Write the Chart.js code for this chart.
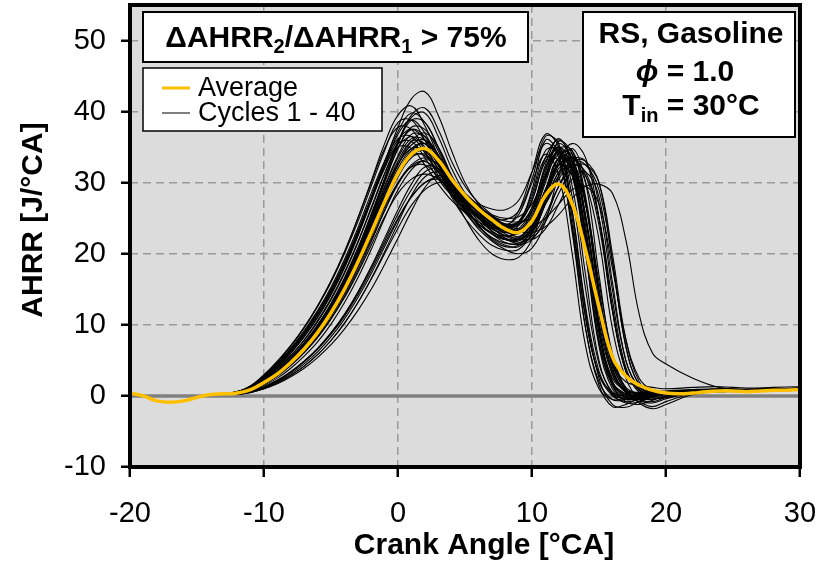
<!DOCTYPE html>
<html>
<head>
<meta charset="utf-8">
<script src="https://cdn.jsdelivr.net/npm/chart.js@4.4.1/dist/chart.umd.min.js"></script>
<style>
  html, body { margin: 0; padding: 0; background: #fff; }
  #wrap { width: 828px; height: 566px; }
</style>
</head>
<body>
<div id="wrap"><canvas id="ahrrChart" width="828" height="566"></canvas></div>
<script>
// crank angle grid for the single cycles (-20..-13 lead-in, then -12..20, then 2 deg steps)
const cycleAngles = [-20, -19, -18, -17, -16, -15, -14, -13,
    -12, -11, -10, -9, -8, -7, -6, -5, -4, -3, -2, -1,
    0, 1, 2, 3, 4, 5, 6, 7, 8,
    9, 10, 11, 12, 13, 14, 15, 16, 17, 18, 19, 20,
    22, 24, 26, 28, 30];

// all cycles overlap before ignition
const leadIn = [0.4, 0.0, -0.7, -0.9, -0.7, -0.2, 0.2, 0.3];

// values from -12 to 30 deg CA (38 per cycle)
const cycle01 = [0.5,1.1,2.4,4.0,6.0,8.3,11.0,14.2,18.0,22.5,27.5,32.8, 37.8,41.8,42.8,39.5,34.5,30.0,27.0,25.0,23.3, 22.8,25.0,31.0,34.2,31.0,20.0,7.5,1.5,0.2,-0.5,-0.2,0.3, 0.6,0.8,0.7,0.9,1.0];
const cycle02 = [0.5,1.0,2.1,3.5,5.3,7.4,9.9,12.9,16.4,20.6,25.3,30.5, 35.5,39.5,40.5,37.5,33.0,29.5,27.2,25.5,24.2, 24.5,27.5,33.5,36.0,33.0,22.0,9.0,2.5,0.8,0.3,0.5,0.6, 0.8,0.9,0.7,0.8,0.9];
const cycle03 = [0.6,1.4,2.9,4.8,7.0,9.6,12.6,16.0,20.0,24.5,29.5,34.5, 38.5,38.8,36.0,32.5,29.5,27.5,26.0,25.0,24.8, 26.0,30.5,36.5,35.5,26.0,12.0,2.5,-1.2,-1.6,-0.8,0.0,0.4, 0.7,1.0,0.8,0.9,1.1];
const cycle04 = [0.4,0.9,1.9,3.1,4.8,6.8,9.2,12.0,15.3,19.2,23.6,28.2, 32.5,35.8,37.0,35.0,31.0,27.0,24.0,22.0,21.0, 21.2,23.5,28.5,32.5,33.0,27.0,15.0,5.0,1.2,0.3,0.0,0.2, 0.5,0.7,0.6,0.8,0.8];
const cycle05 = [0.2,0.5,1.0,1.7,2.7,3.9,5.4,7.2,9.4,12.0,15.0,18.5, 22.2,26.0,29.3,31.0,30.2,28.5,26.8,25.3,24.0, 23.2,23.0,23.8,25.5,27.8,29.5,29.8,28.5,22.0,11.5,6.0,4.5, 2.5,1.2,0.9,0.8,0.9];
const cycle06 = [0.4,0.8,1.8,3.0,4.5,6.4,8.6,11.3,14.5,18.3,22.6,27.0, 31.0,34.2,34.8,32.5,29.0,26.0,23.5,21.8,20.6, 20.0,20.8,24.5,31.0,34.8,30.0,17.0,5.5,1.0,-0.3,-0.5,0.0, 0.5,0.6,0.7,0.7,0.8];
const cycle07 = [0.6,1.2,2.6,4.3,6.3,8.6,11.4,14.6,18.4,22.8,27.5,32.0, 35.5,35.8,33.5,30.5,28.2,26.5,25.2,24.3,24.0, 25.5,30.0,34.0,31.0,20.0,7.0,1.0,-0.5,-0.3,0.2,0.5,0.6, 0.8,0.9,0.8,1.0,1.0];
const cycle08 = [0.3,0.6,1.2,2.1,3.3,4.8,6.6,8.8,11.4,14.5,18.0,21.8, 25.6,29.0,31.5,32.0,30.5,28.5,26.5,24.8,23.2, 22.3,22.0,23.5,27.0,30.5,31.5,28.0,16.0,5.0,1.0,0.0,0.2, 0.6,0.8,0.8,0.9,0.9];
const cycle09 = [0.5,1.0,2.1,3.4,5.1,7.2,9.7,12.7,16.2,20.3,25.0,30.0, 34.8,37.8,37.5,34.5,30.5,27.5,25.5,24.0,23.0, 23.2,26.0,31.5,35.0,32.0,22.0,9.0,2.0,0.3,-0.3,0.0,0.4, 0.7,0.8,0.7,0.8,0.9];
const cycle10 = [0.4,0.9,1.8,3.0,4.6,6.5,8.8,11.5,14.7,18.5,22.7,27.0, 30.8,33.5,34.0,32.0,28.5,25.0,22.0,20.0,19.2, 19.5,22.0,27.5,32.0,32.0,25.0,12.0,3.5,0.5,-0.8,-1.5,-0.8, 0.3,0.6,0.6,0.7,0.8];
const cycle11 = [0.6,1.3,2.7,4.5,6.6,9.0,11.8,15.0,18.8,23.2,28.0,33.0, 37.2,39.8,38.5,35.0,31.0,28.2,26.2,24.8,24.0, 24.5,28.0,33.5,33.0,24.0,11.0,3.0,0.5,0.0,0.3,0.5,0.6, 0.7,0.8,0.9,0.9,1.0];
const cycle12 = [0.3,0.7,1.5,2.5,3.9,5.6,7.6,10.1,13.1,16.6,20.6,25.0, 29.0,31.8,33.2,32.5,30.0,27.8,25.8,24.3,23.2, 23.0,24.5,29.0,32.5,33.5,33.0,27.0,15.0,5.0,1.2,0.3,0.4, 0.6,0.7,0.8,0.8,0.9];
const cycle13 = [0.4,0.9,2.0,3.3,5.0,7.0,9.4,12.3,15.7,19.7,24.2,28.8, 33.0,35.8,35.5,32.8,29.6,27.0,25.2,24.0,23.8, 26.0,31.5,36.8,35.0,25.0,11.0,3.0,0.0,-0.8,-0.5,0.2,0.5, 0.7,0.9,0.8,0.9,1.0];
const cycle14 = [0.3,0.6,1.2,2.0,3.1,4.5,6.2,8.3,10.8,13.8,17.2,21.0, 24.8,28.0,30.0,30.8,30.0,28.0,25.8,23.8,22.2, 21.5,22.5,25.5,29.5,32.0,32.5,30.0,20.0,8.0,2.0,0.3,0.2, 0.5,0.7,0.7,0.8,0.9];
const cycle15 = [0.5,1.0,2.2,3.6,5.4,7.5,10.0,13.0,16.6,20.8,25.6,30.6, 35.5,38.8,38.5,35.0,30.8,27.5,25.0,23.2,22.0, 21.8,23.5,28.0,33.0,34.0,27.5,14.0,4.5,0.8,-0.5,-0.8,-0.2, 0.5,0.8,0.8,0.9,1.0];
const cycle16 = [0.6,1.3,2.8,4.6,6.7,9.2,12.0,15.3,19.2,23.6,28.5,33.0, 36.2,36.5,34.2,31.5,29.5,28.0,27.0,26.3,26.2, 27.5,31.5,35.5,33.5,23.0,9.5,2.0,-0.5,-0.5,0.0,0.4,0.5, 0.8,0.9,0.9,1.0,1.1];
const cycle17 = [0.4,0.9,1.9,3.1,4.8,6.8,9.1,11.9,15.2,19.0,23.3,27.6, 31.5,34.5,35.5,33.5,29.8,26.5,24.0,22.2,21.2, 21.0,22.8,27.0,31.5,33.5,31.0,24.0,12.0,3.5,0.8,0.3,0.4, 0.6,0.8,0.7,0.9,0.9];
const cycle18 = [0.4,0.8,1.7,2.8,4.3,6.1,8.2,10.8,13.8,17.3,21.2,25.2, 28.5,30.5,31.2,30.5,28.8,27.0,25.3,24.0,23.2, 23.5,26.5,32.0,35.5,33.0,23.0,9.5,2.0,0.0,-0.5,0.0,0.4, 0.6,0.8,0.8,0.9,0.9];
const cycle19 = [0.5,1.0,2.1,3.5,5.2,7.3,9.8,12.8,16.3,20.5,25.2,30.2, 34.8,37.5,36.5,33.2,29.5,26.5,24.2,22.8,22.0, 22.2,24.5,29.0,32.5,31.0,23.0,10.5,3.0,0.8,0.5,0.6,0.7, 0.9,1.0,0.9,1.0,1.1];
const cycle20 = [0.2,0.5,1.0,1.8,2.9,4.2,5.8,7.8,10.2,13.1,16.5,20.3, 24.3,28.2,30.8,31.5,30.3,28.2,26.0,24.2,22.8, 22.0,22.2,24.5,28.5,31.5,31.0,25.0,13.5,4.0,0.8,-0.3,-0.2, 0.4,0.7,0.8,0.8,0.9];
const cycle21 = [0.6,1.4,2.9,4.8,7.0,9.6,12.6,16.1,20.2,25.0,30.2,35.5, 39.5,40.8,38.0,33.8,30.0,27.5,25.8,24.6,23.8, 24.2,27.5,33.0,34.5,28.0,15.0,4.5,0.5,-0.5,-0.2,0.3,0.5, 0.7,0.9,0.8,0.9,1.0];
const cycle22 = [0.4,0.9,1.9,3.1,4.7,6.6,8.9,11.7,15.0,18.9,23.2,27.6, 31.2,33.8,34.5,33.0,30.2,28.0,26.5,25.3,24.6, 24.5,25.0,27.0,30.5,33.0,32.5,29.0,19.0,7.0,1.5,0.3,0.4, 0.6,0.8,0.8,0.8,0.9];
const cycle23 = [0.5,1.1,2.3,3.8,5.7,7.9,10.6,13.7,17.4,21.7,26.5,31.3, 35.0,36.5,35.0,31.8,28.0,25.0,22.8,21.2,20.5, 20.6,23.0,28.5,33.5,32.0,22.5,9.0,1.5,-0.8,-1.2,-0.6,0.0, 0.5,0.7,0.8,0.8,0.9];
const cycle24 = [0.4,0.8,1.7,2.9,4.4,6.3,8.5,11.2,14.3,18.0,22.0,26.2, 30.0,32.5,33.5,32.5,29.8,27.2,25.2,23.6,22.5, 22.0,23.2,27.5,33.0,35.5,33.5,25.0,12.0,3.5,0.8,0.2,0.3, 0.5,0.7,0.8,0.8,0.9];
const cycle25 = [0.6,1.4,3.0,4.9,7.1,9.7,12.7,16.2,20.3,25.0,30.0,34.8, 37.8,37.5,34.5,31.0,28.5,26.8,25.5,24.5,23.8, 24.5,28.5,34.5,34.5,26.0,12.5,3.5,0.2,-0.3,0.2,0.5,0.6, 0.8,0.9,0.9,1.0,1.0];
const cycle26 = [0.5,1.0,2.0,3.3,5.0,7.0,9.4,12.3,15.7,19.7,24.2,28.8, 32.6,34.8,34.5,32.0,29.0,26.7,25.0,23.8,23.0, 23.2,26.0,32.5,36.2,32.0,20.0,7.0,1.0,-0.5,-0.2,0.3,0.5, 0.7,0.8,0.8,0.9,1.0];
const cycle27 = [0.3,0.6,1.3,2.2,3.4,4.9,6.7,8.9,11.5,14.6,18.2,22.2, 26.2,29.8,32.2,32.0,29.8,27.0,24.6,22.8,21.6, 21.3,22.0,25.0,29.5,32.5,31.5,25.0,12.5,3.5,0.5,-0.3,0.0, 0.5,0.7,0.7,0.8,0.8];
const cycle28 = [0.4,0.9,1.9,3.2,4.9,6.9,9.3,12.2,15.6,19.6,24.0,28.6, 32.6,35.3,36.0,34.0,30.5,27.5,25.0,23.2,22.2, 22.0,23.8,28.5,33.5,34.5,28.0,15.0,4.5,0.8,-0.2,0.0,0.3, 0.6,0.8,0.8,0.9,0.9];
const cycle29 = [0.5,1.1,2.3,3.8,5.6,7.8,10.4,13.5,17.2,21.5,26.3,31.2, 35.8,39.2,39.8,36.5,32.0,28.5,26.0,24.3,23.2, 23.0,25.0,30.0,34.5,33.5,25.0,11.5,3.0,0.5,0.0,0.3,0.5, 0.7,0.8,0.8,0.9,1.0];
const cycle30 = [0.4,0.9,1.8,3.0,4.6,6.5,8.7,11.4,14.6,18.3,22.4,26.6, 30.0,32.2,32.5,30.8,28.2,25.8,23.8,22.3,21.5, 21.5,23.0,27.0,31.5,32.0,27.0,16.0,6.0,1.0,-1.0,-1.8,-1.2, 0.2,0.6,0.6,0.7,0.8];
const cycle31 = [0.6,1.2,2.6,4.3,6.3,8.7,11.5,14.7,18.5,22.9,27.7,32.5, 36.0,37.5,36.0,32.5,29.2,27.0,25.5,24.5,23.8, 24.0,26.5,32.0,35.0,29.5,17.0,5.0,0.3,-1.0,-0.8,-0.2,0.3, 0.6,0.8,0.8,0.9,1.0];
const cycle32 = [0.3,0.6,1.3,2.2,3.4,4.9,6.6,8.7,11.2,14.2,17.6,21.4, 25.0,28.0,30.0,30.5,29.8,28.2,26.5,25.0,23.8, 23.2,24.0,27.0,31.0,33.0,33.0,30.0,19.0,7.0,1.5,0.4,0.5, 0.7,0.8,0.8,0.9,0.9];
const cycle33 = [0.5,1.0,2.1,3.4,5.1,7.2,9.6,12.6,16.1,20.1,24.7,29.5, 33.8,36.8,36.5,33.8,30.5,28.0,26.2,25.0,24.2, 24.2,26.0,30.5,34.0,33.0,25.5,12.5,3.5,0.8,0.3,0.5,0.6, 0.8,0.9,0.9,1.0,1.0];
const cycle34 = [0.4,0.9,1.9,3.1,4.8,6.8,9.1,11.9,15.2,19.1,23.4,27.8, 31.5,33.8,33.8,31.5,28.5,26.0,24.2,22.8,22.0, 22.0,24.5,30.5,35.8,34.0,24.0,10.0,2.0,-0.2,-0.5,0.0,0.3, 0.6,0.7,0.8,0.8,0.9];
const cycle35 = [0.3,0.5,1.1,1.9,2.9,4.2,5.8,7.8,10.2,13.1,16.4,20.0, 23.6,26.8,29.0,30.0,29.8,28.5,26.8,25.2,24.0, 23.5,23.8,25.0,27.0,29.0,29.5,27.0,18.0,8.0,2.5,0.8,0.5, 0.7,0.8,0.9,0.9,1.0];
const cycle36 = [0.5,1.2,2.5,4.1,6.1,8.4,11.1,14.3,18.1,22.5,27.4,32.4, 36.8,38.8,37.0,33.0,29.0,26.2,24.2,23.0,22.5, 23.0,25.5,31.0,34.5,31.5,21.0,8.0,1.5,-0.3,-0.3,0.2,0.4, 0.7,0.8,0.8,0.9,1.0];
const cycle37 = [0.4,0.9,1.9,3.2,4.8,6.8,9.2,12.0,15.4,19.3,23.7,28.2, 32.0,34.8,35.5,33.5,30.0,27.2,25.0,23.5,22.6, 22.4,24.0,29.0,33.5,32.5,25.0,13.0,4.5,2.0,1.5,1.2,1.0, 1.2,1.3,1.1,1.2,1.3];
const cycle38 = [0.4,0.8,1.7,2.8,4.3,6.1,8.3,10.9,14.0,17.6,21.7,26.0, 29.8,32.3,33.0,31.5,28.8,26.2,24.2,22.8,22.0, 22.0,23.5,27.8,32.5,33.5,30.0,22.0,9.5,2.5,-0.5,-1.0,-0.4, 0.4,0.7,0.7,0.8,0.8];
const cycle39 = [0.6,1.3,2.7,4.5,6.5,8.9,11.7,14.9,18.7,23.0,27.8,32.3, 35.0,34.8,32.5,29.8,27.5,25.8,24.5,23.5,23.0, 24.0,29.0,36.0,34.0,23.5,9.5,1.5,-1.5,-1.2,-0.3,0.3,0.5, 0.7,0.9,0.8,0.9,1.0];
const cycle40 = [0.5,1.0,2.0,3.3,5.0,7.1,9.5,12.4,15.9,20.0,24.5,29.2, 33.5,36.2,36.0,33.5,30.5,28.2,26.6,25.5,25.0, 25.2,27.0,31.0,34.8,34.5,27.0,14.0,4.0,0.5,0.0,0.2,0.4, 0.6,0.8,0.8,0.8,0.9];

const cycles = [cycle01, cycle02, cycle03, cycle04, cycle05, cycle06, cycle07, cycle08, cycle09, cycle10,
    cycle11, cycle12, cycle13, cycle14, cycle15, cycle16, cycle17, cycle18, cycle19, cycle20,
    cycle21, cycle22, cycle23, cycle24, cycle25, cycle26, cycle27, cycle28, cycle29, cycle30,
    cycle31, cycle32, cycle33, cycle34, cycle35, cycle36, cycle37, cycle38, cycle39, cycle40];

// average curve, 1 deg steps
const avgAngles = [-20, -19, -18, -17, -16, -15, -14, -13, -12, -11, -10, -9, -8, -7, -6, -5, -4, -3, -2, -1,
    0, 1, 2, 3, 4, 5, 6, 7, 8, 9, 10, 11, 12, 13, 14, 15, 16, 17, 18, 19, 20,
    21, 22, 23, 24, 25, 26, 27, 28, 29, 30];
const avgValues = [0.4, 0.0, -0.7, -0.9, -0.7, -0.2, 0.2, 0.3, 0.4, 0.9, 1.9, 3.1, 4.7, 6.6, 8.9, 11.7, 15.0, 18.8, 23.0, 27.3,
    31.3, 34.0, 34.8, 33.2, 30.5, 28.2, 26.3, 24.8, 23.5, 23.0, 24.6, 28.2, 29.8, 27.0, 20.5, 12.5, 5.5, 2.8, 1.5, 0.8, 0.4,
    0.3, 0.4, 0.6, 0.7, 0.7, 0.6, 0.7, 0.8, 0.8, 0.9];

const xTicks = [-20, -10, 0, 10, 20, 30];
const yTicks = [-10, 0, 10, 20, 30, 40, 50];

const FONT = "'Liberation Sans', Arial, sans-serif";

cycles.forEach((c, i) => {
    if (leadIn.length + c.length !== cycleAngles.length) {
        throw new Error(`cycle ${i + 1} has ${c.length} values`);
    }
});
if (avgValues.length !== avgAngles.length) throw new Error('average length mismatch');

function toPoints(angles, values) {
    return angles.map((a, i) => ({ x: a, y: values[i] }));
}

const datasets = [{
    label: 'Average',
    data: toPoints(avgAngles, avgValues),
    borderColor: '#ffc000',
    borderWidth: 3.5,
    pointRadius: 0,
    tension: 0.4
}];
cycles.forEach((c, i) => {
    datasets.push({
        label: `Cycle ${i + 1}`,
        data: toPoints(cycleAngles, leadIn.concat(c)),
        borderColor: '#000',
        borderWidth: 1.1,
        pointRadius: 0,
        tension: 0.4
    });
});

// draw text made of pieces (subscripts, italic) centred on cx
function drawPieces(ctx, pieces, cx, baseline) {
    let total = 0;
    pieces.forEach(p => {
        ctx.font = p.font;
        p.w = ctx.measureText(p.text).width;
        total += p.w;
    });
    let x = cx - total / 2;
    ctx.textAlign = 'left';
    ctx.textBaseline = 'alphabetic';
    pieces.forEach(p => {
        ctx.font = p.font;
        ctx.fillText(p.text, x, baseline + (p.dy || 0));
        x += p.w;
    });
}

function box(ctx, x1, y1, x2, y2, lw) {
    ctx.fillStyle = '#fff';
    ctx.fillRect(x1, y1, x2 - x1, y2 - y1);
    ctx.strokeStyle = '#000';
    ctx.lineWidth = lw;
    ctx.strokeRect(x1, y1, x2 - x1, y2 - y1);
}

const decorPlugin = {
    id: 'decor',
    beforeDraw(chart) {
        const { ctx, chartArea: a } = chart;
        ctx.save();
        ctx.fillStyle = '#fff';
        ctx.fillRect(0, 0, chart.width, chart.height);
        ctx.fillStyle = '#dcdcdc';
        ctx.fillRect(a.left, a.top, a.right - a.left, a.bottom - a.top);
        ctx.restore();
    },
    beforeDatasetsDraw(chart) {
        const { ctx, chartArea: a, scales } = chart;
        const y0 = scales.y.getPixelForValue(0);
        ctx.save();
        ctx.strokeStyle = '#808080';
        ctx.lineWidth = 3.5;
        ctx.beginPath();
        ctx.moveTo(a.left, y0);
        ctx.lineTo(a.right, y0);
        ctx.stroke();
        ctx.restore();
    },
    afterDatasetsDraw(chart) {
        const { ctx, chartArea: a } = chart;
        ctx.save();
        ctx.strokeStyle = '#000';
        ctx.lineWidth = 4;
        ctx.strokeRect(a.left, a.top, a.right - a.left, a.bottom - a.top);
        ctx.restore();
    },
    afterDraw(chart) {
        const ctx = chart.ctx;
        const bold = `bold 30px ${FONT}`;
        const boldSub = `bold 20px ${FONT}`;
        ctx.save();
        ctx.fillStyle = '#000';

        // condition box
        box(ctx, 143, 12, 528, 62, 2);
        ctx.fillStyle = '#000';
        drawPieces(ctx, [
            { text: 'ΔAHRR', font: bold },
            { text: '2', font: boldSub, dy: 6 },
            { text: '/ΔAHRR', font: bold },
            { text: '1', font: boldSub, dy: 6 },
            { text: ' > 75%', font: bold }
        ], 336, 47);

        // legend
        box(ctx, 143, 68, 382, 131, 1.5);
        ctx.strokeStyle = '#ffc000';
        ctx.lineWidth = 3;
        ctx.beginPath(); ctx.moveTo(162, 88); ctx.lineTo(190, 88); ctx.stroke();
        ctx.strokeStyle = '#000';
        ctx.lineWidth = 1;
        ctx.beginPath(); ctx.moveTo(162, 113); ctx.lineTo(190, 113); ctx.stroke();
        ctx.fillStyle = '#000';
        ctx.font = `27px ${FONT}`;
        ctx.textAlign = 'left';
        ctx.textBaseline = 'alphabetic';
        ctx.fillText('Average', 198, 96);
        ctx.fillText('Cycles 1 - 40', 198, 121);

        // operating condition box
        box(ctx, 583, 12, 795, 137, 2);
        ctx.fillStyle = '#000';
        drawPieces(ctx, [{ text: 'RS, Gasoline', font: bold }], 691, 43);
        drawPieces(ctx, [
            { text: 'ϕ', font: `italic bold 30px ${FONT}` },
            { text: ' = 1.0', font: bold }
        ], 685, 81);
        drawPieces(ctx, [
            { text: 'T', font: bold },
            { text: 'in', font: boldSub, dy: 7 },
            { text: ' = 30°C', font: bold }
        ], 691, 115);

        // axis titles
        ctx.font = bold;
        ctx.textAlign = 'center';
        ctx.textBaseline = 'middle';
        ctx.fillText('Crank Angle [°CA]', 484, 546);
        ctx.translate(34, 220);
        ctx.rotate(-Math.PI / 2);
        ctx.fillText('AHRR [J/°CA]', 0, 0);
        ctx.restore();
    }
};

const ctx = document.getElementById('ahrrChart').getContext('2d');
new Chart(ctx, {
    type: 'line',
    data: { datasets: datasets },
    options: {
        responsive: false,
        animation: false,
        devicePixelRatio: 1,
        layout: { padding: { left: 0, right: 28, top: 5, bottom: 0 } },
        plugins: {
            legend: { display: false },
            tooltip: { enabled: false }
        },
        scales: {
            x: {
                type: 'linear',
                min: -20,
                max: 30,
                afterBuildTicks: (axis) => { axis.ticks = xTicks.map(v => ({ value: v })); },
                afterFit: (scale) => {
                    scale.height = 99;
                    scale.paddingLeft = 0; scale.paddingRight = 0;
                    scale.paddingTop = 0; scale.paddingBottom = 0;
                },
                ticks: {
                    color: '#000',
                    font: { family: FONT, size: 29 },
                    padding: 20,
                    maxRotation: 0
                },
                grid: {
                    color: '#9a9a9a',
                    lineWidth: 1.5,
                    tickColor: '#000',
                    tickLength: 10,
                    tickWidth: 2.5,
                    tickBorderDash: []
                },
                border: { display: false, dash: [8, 5] }
            },
            y: {
                type: 'linear',
                min: -10,
                max: 55,
                afterBuildTicks: (axis) => { axis.ticks = yTicks.map(v => ({ value: v })); },
                afterFit: (scale) => {
                    scale.width = 130;
                    scale.paddingLeft = 0; scale.paddingRight = 0;
                    scale.paddingTop = 0; scale.paddingBottom = 0;
                },
                ticks: {
                    color: '#000',
                    font: { family: FONT, size: 29 },
                    padding: 15
                },
                grid: {
                    color: '#9a9a9a',
                    lineWidth: 1.5,
                    tickColor: '#000',
                    tickLength: 9,
                    tickWidth: 2.5,
                    tickBorderDash: []
                },
                border: { display: false, dash: [8, 5] }
            }
        }
    },
    plugins: [decorPlugin]
});
</script>
</body>
</html>
